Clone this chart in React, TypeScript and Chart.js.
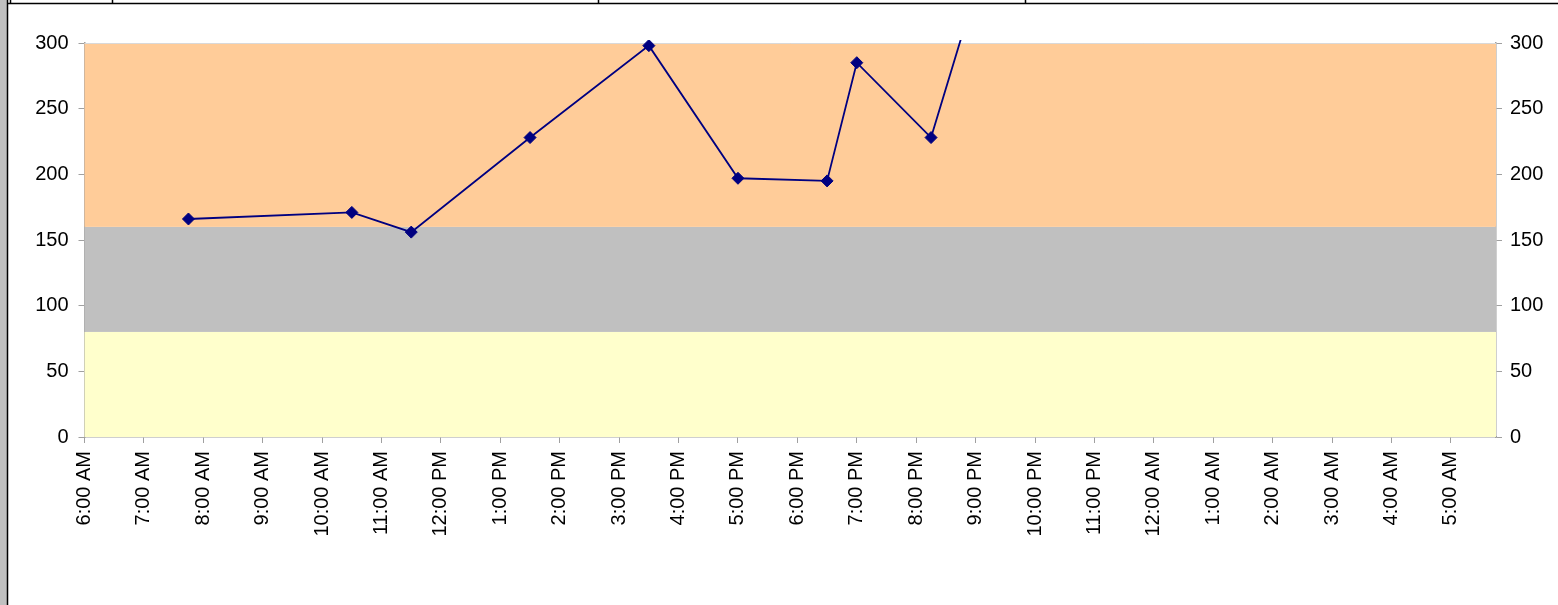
import React, { useEffect, useRef } from "react";
import { Chart, registerables } from "chart.js";

Chart.register(...registerables);

// Time of day in hours (6 = 6:00 AM, 24+ = next day)
const readingHours = [7.75, 10.5, 11.5, 13.5, 15.5, 17, 18.5, 19, 20.25, 21];
const readingValues = [166, 171, 156, 228, 298, 197, 195, 285, 228, 340];

// Background bands: [from, to, colour]
const bandFrom = [0, 80, 160];
const bandTo = [80, 160, 300];
const bandColors = ["#FFFFCC", "#C0C0C0", "#FFCC99"];

const yTickMin = 0;
const yTickMax = 300;
const yTickStep = 50;
const xMinHour = 6;
const xMaxHour = 29.76;

function formatHour(v: number): string {
  const h = ((Math.round(v) % 24) + 24) % 24;
  const suffix = h < 12 ? "AM" : "PM";
  const h12 = h % 12 === 0 ? 12 : h % 12;
  return `${h12}:00 ${suffix}`;
}

const decorPlugin = {
  id: "decor",
  beforeDraw(chart: any) {
    const { ctx, width, height } = chart;
    ctx.save();
    ctx.fillStyle = "#ffffff";
    ctx.fillRect(0, 0, width, height);
    ctx.fillStyle = "#C0C0C0";
    ctx.fillRect(0, 0, 7, height);
    ctx.strokeStyle = "#000000";
    ctx.lineWidth = 1.5;
    ctx.beginPath();
    ctx.moveTo(7.5, 0);
    ctx.lineTo(7.5, height);
    ctx.moveTo(7, 3.5);
    ctx.lineTo(width, 3.5);
    [10, 112, 598, 1025].forEach((x) => {
      ctx.moveTo(x + 0.5, 0);
      ctx.lineTo(x + 0.5, 3.5);
    });
    ctx.stroke();
    ctx.restore();
  },
  beforeDatasetsDraw(chart: any) {
    const { ctx, chartArea } = chart;
    const y = chart.scales.y;
    ctx.save();
    for (let i = 0; i < bandFrom.length; i++) {
      const top = y.getPixelForValue(bandTo[i]);
      const bottom = y.getPixelForValue(bandFrom[i]);
      ctx.fillStyle = bandColors[i];
      ctx.fillRect(chartArea.left, top, chartArea.right - chartArea.left, bottom - top);
    }
    ctx.strokeStyle = "#D9D9D9";
    ctx.lineWidth = 1;
    ctx.beginPath();
    ctx.moveTo(chartArea.left, chartArea.top + 0.5);
    ctx.lineTo(chartArea.right, chartArea.top + 0.5);
    ctx.stroke();
    ctx.restore();
  },
};

export default function App() {
  const canvasRef = useRef<HTMLCanvasElement>(null);

  useEffect(() => {
    document.body.style.margin = "0";
    const canvas = canvasRef.current;
    if (!canvas) return;
    const font = { family: "'Liberation Sans', Arial, sans-serif", size: 20 };
    const axisGray = "#A0A0A0";
    const chart = new Chart(canvas, {
      type: "line",
      data: {
        datasets: [
          {
            data: readingHours.map((h, i) => ({ x: h, y: readingValues[i] })),
            borderColor: "#000080",
            backgroundColor: "#000080",
            borderWidth: 1.8,
            pointStyle: "rectRot",
            pointRadius: 6,
            pointBorderWidth: 1,
            tension: 0,
            fill: false,
            yAxisID: "y",
            clip: { left: 6, top: 3, right: 6, bottom: 6 },
          },
        ],
      },
      plugins: [decorPlugin],
      options: {
        animation: false,
        responsive: false,
        layout: { padding: { top: 43, left: 0, right: 0, bottom: 0 } },
        plugins: { legend: { display: false }, tooltip: { enabled: false } },
        scales: {
          x: {
            type: "linear",
            min: xMinHour,
            max: xMaxHour,
            afterFit: (s: any) => {
              s.height = 168;
            },
            afterBuildTicks: (s: any) => {
              s.ticks = s.ticks.filter((t: any) => Number.isInteger(t.value));
            },
            ticks: {
              stepSize: 1,
              autoSkip: false,
              minRotation: 90,
              maxRotation: 90,
              padding: 8,
              color: "#000000",
              font,
              callback: (v: any) => formatHour(Number(v)),
            },
            grid: {
              drawOnChartArea: false,
              drawTicks: true,
              tickLength: 6,
              color: axisGray,
            },
            border: { color: axisGray, width: 1.5 },
          },
          y: {
            position: "left",
            min: yTickMin,
            max: yTickMax,
            afterFit: (s: any) => {
              s.width = 84.5;
            },
            ticks: { stepSize: yTickStep, padding: 10, color: "#000000", font },
            grid: { drawOnChartArea: false, tickLength: 6, color: axisGray },
            border: { color: axisGray, width: 1.5 },
          },
          y2: {
            position: "right",
            min: yTickMin,
            max: yTickMax,
            afterFit: (s: any) => {
              s.width = 62;
            },
            ticks: { stepSize: yTickStep, padding: 8, color: "#000000", font },
            grid: { drawOnChartArea: false, tickLength: 6, color: axisGray },
            border: { color: axisGray, width: 1.5 },
          },
        },
      },
    });
    return () => chart.destroy();
  }, []);

  return (
    <div style={{ position: "fixed", left: 0, top: 0, width: 1558, height: 605 }}>
      <canvas ref={canvasRef} width={1558} height={605} style={{ width: 1558, height: 605 }} />
    </div>
  );
}
